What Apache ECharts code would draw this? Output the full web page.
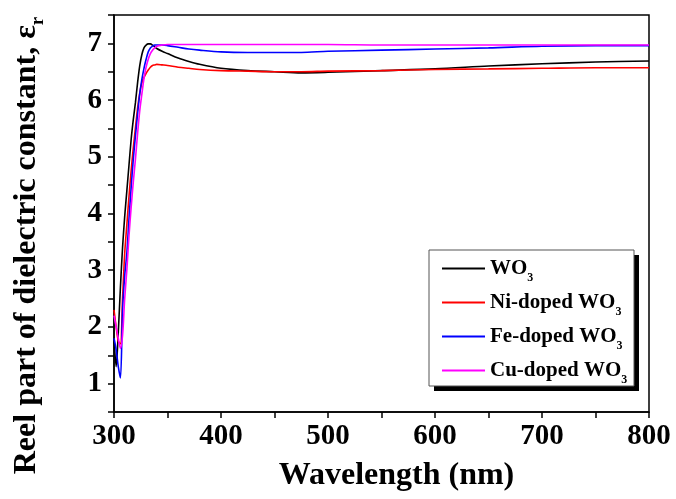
<!DOCTYPE html>
<html>
<head>
<meta charset="utf-8">
<script src="https://cdn.jsdelivr.net/npm/echarts@6/dist/echarts.min.js"></script>
<style>
  html, body { margin: 0; padding: 0; background: #fff; }
  #chart { width: 676px; height: 499px; }
</style>
</head>
<body>
<div id="chart"></div>
<script>
// Wavelength grid (nm) shared by all four spectra
const wavelength = [300, 302, 304, 306, 308, 310, 312, 314, 316, 318, 320, 322, 324, 326, 328, 330,
  332, 334, 336, 338, 340, 345, 350, 360, 370, 380, 400, 425, 450, 475, 500, 550, 600, 650, 700, 750, 800];

// Real part of the dielectric constant for each sample
const wo3 = [1.8, 1.3, 1.9, 2.7, 3.4, 3.95, 4.4, 4.85, 5.3, 5.65, 5.95, 6.3, 6.6, 6.8, 6.92, 6.97,
  6.99, 6.99, 6.97, 6.94, 6.91, 6.86, 6.82, 6.74, 6.68, 6.63, 6.56, 6.52, 6.5, 6.48, 6.49, 6.52, 6.55, 6.6, 6.64, 6.67, 6.69];
const niWo3 = [2.3, 2.0, 1.75, 1.7, 2.5, 3.3, 3.8, 4.3, 4.75, 5.15, 5.5, 5.85, 6.12, 6.3, 6.4, 6.47,
  6.53, 6.58, 6.61, 6.62, 6.63, 6.62, 6.61, 6.58, 6.56, 6.54, 6.52, 6.51, 6.5, 6.5, 6.51, 6.52, 6.54, 6.55, 6.56, 6.57, 6.57];
const feWo3 = [1.8, 1.6, 1.3, 1.1, 2.3, 2.9, 3.3, 3.9, 4.45, 4.95, 5.36, 5.75, 6.1, 6.36, 6.56, 6.72,
  6.85, 6.92, 6.95, 6.97, 6.97, 6.97, 6.96, 6.93, 6.9, 6.88, 6.85, 6.84, 6.84, 6.84, 6.86, 6.88, 6.9, 6.92, 6.95, 6.96, 6.96];
const cuWo3 = [2.2, 2.0, 1.8, 1.62, 1.85, 2.5, 3.0, 3.6, 4.1, 4.55, 4.95, 5.4, 5.8, 6.1, 6.38, 6.58,
  6.72, 6.82, 6.88, 6.92, 6.95, 6.97, 6.98, 6.98, 6.98, 6.98, 6.98, 6.98, 6.98, 6.98, 6.98, 6.97, 6.97, 6.97, 6.97, 6.97, 6.97];

const seriesNames = ['WO3', 'Ni-doped WO3', 'Fe-doped WO3', 'Cu-doped WO3'];
const seriesValues = [wo3, niWo3, feWo3, cuWo3];
const seriesColors = ['#000000', '#ff0000', '#0000ff', '#ff00ff'];

const FONT = '"Liberation Serif", "Times New Roman", serif';

const chart = echarts.init(document.getElementById('chart'), null, { renderer: 'canvas' });

const series = seriesNames.map((name, i) => ({
  name: name,
  type: 'line',
  data: wavelength.map((w, k) => [w, seriesValues[i][k]]),
  smooth: 0.3,
  showSymbol: false,
  symbol: 'none',
  lineStyle: { color: seriesColors[i], width: 1.6 },
  itemStyle: { color: seriesColors[i] },
  z: 2 + i
}));

const option = {
  backgroundColor: '#ffffff',
  animation: false,
  grid: {
    left: 114, right: 27, top: 15, bottom: 87,
    show: true, borderColor: '#000', borderWidth: 1.5, backgroundColor: 'transparent'
  },
  xAxis: {
    type: 'value',
    min: 300, max: 800, interval: 50,
    name: 'Wavelength (nm)',
    nameLocation: 'middle',
    nameGap: 48,
    nameTextStyle: { fontFamily: FONT, fontWeight: 'bold', fontSize: 32, color: '#000', padding: [0, 0, 0, 30] },
    axisLine: { show: true, onZero: false, lineStyle: { color: '#000', width: 1.5 } },
    axisTick: { show: true, inside: false, length: 6, lineStyle: { color: '#000', width: 1.5 } },
    splitLine: { show: false },
    axisLabel: {
      margin: 10,
      fontFamily: FONT, fontWeight: 'bold', fontSize: 29, color: '#000',
      formatter: v => (v % 100 === 0 ? String(v) : '')
    }
  },
  yAxis: {
    type: 'value',
    min: 0.5, max: 7.5, interval: 0.5,
    name: '{t|Reel part of dielectric constant, ε}{s|r}',
    nameLocation: 'middle',
    nameGap: 66,
    nameRotate: 90,
    nameTextStyle: {
      fontFamily: FONT, fontWeight: 'bold', fontSize: 32, color: '#000',
      padding: [0, 64, 0, 0],
      rich: {
        t: { fontFamily: FONT, fontWeight: 'bold', fontSize: 32, lineHeight: 32, color: '#000' },
        s: { fontFamily: FONT, fontWeight: 'bold', fontSize: 19, lineHeight: 42, verticalAlign: 'bottom', color: '#000' }
      }
    },
    axisLine: { show: true, onZero: false, lineStyle: { color: '#000', width: 1.5 } },
    axisTick: { show: true, inside: false, length: 6, lineStyle: { color: '#000', width: 1.5 } },
    splitLine: { show: false },
    axisLabel: {
      margin: 12,
      fontFamily: FONT, fontWeight: 'bold', fontSize: 29, color: '#000',
      formatter: v => (Math.abs(v - Math.round(v)) < 1e-6 ? String(Math.round(v)) : '')
    }
  },
  graphic: [
    { type: 'rect', z: 10, shape: { x: 434, y: 255, width: 205, height: 136 }, style: { fill: '#000' } },
    { type: 'rect', z: 11, shape: { x: 429, y: 250, width: 205, height: 136 }, style: { fill: '#fff', stroke: '#555', lineWidth: 1 } }
  ],
  legend: {
    z: 20,
    left: 442, top: 258,
    orient: 'vertical',
    padding: 0,
    itemGap: 8.5,
    itemWidth: 43, itemHeight: 2,
    icon: 'rect',
    data: seriesNames.map((n, i) => ({ name: n, itemStyle: { color: seriesColors[i] } })),
    formatter: name => '{t|' + name.slice(0, -1) + '}{s|3}',
    textStyle: {
      fontFamily: FONT, fontWeight: 'bold', fontSize: 21, color: '#000', padding: [0, 0, 0, 0],
      rich: {
        t: { fontFamily: FONT, fontWeight: 'bold', fontSize: 21, lineHeight: 20, color: '#000' },
        s: { fontFamily: FONT, fontWeight: 'bold', fontSize: 12, lineHeight: 30, verticalAlign: 'bottom', color: '#000' }
      }
    }
  },
  series: series
};

chart.setOption(option);
</script>
</body>
</html>
